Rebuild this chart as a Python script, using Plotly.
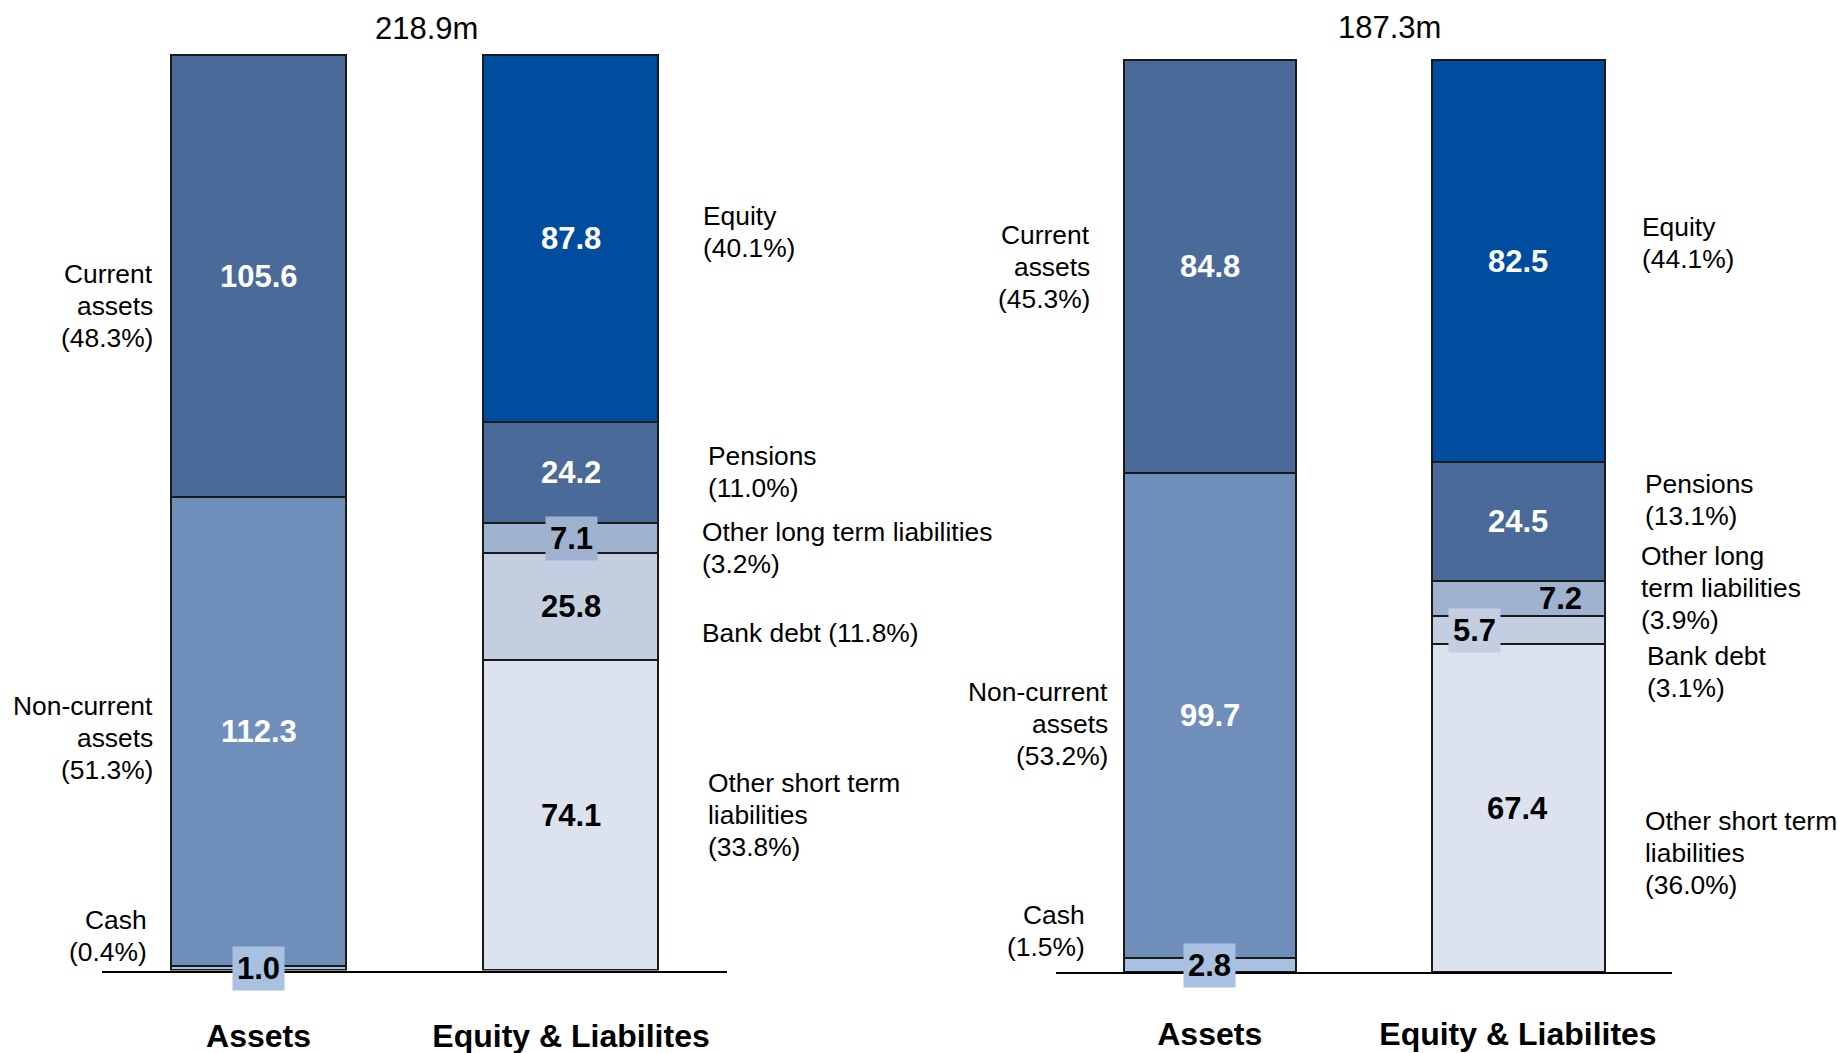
import plotly.graph_objects as go

W, H = 1838, 1053
FONT = "Liberation Sans, Arial, sans-serif"
LINE_GAP = 32  # pixel spacing between lines of the side labels

categories = ["Assets", "Equity & Liabilites"]

# Segment names, listed bottom to top of each stack
asset_names = ["Cash", "Non-current assets", "Current assets"]
liab_names = ["Other short term liabilities", "Bank debt",
              "Other long term liabilities", "Pensions", "Equity"]

# First balance sheet (m)
p1_asset_values = [1.0, 112.3, 105.6]
p1_asset_pct = ["0.4%", "51.3%", "48.3%"]
p1_liab_values = [74.1, 25.8, 7.1, 24.2, 87.8]
p1_liab_pct = ["33.8%", "11.8%", "3.2%", "11.0%", "40.1%"]

# Second balance sheet (m)
p2_asset_values = [2.8, 99.7, 84.8]
p2_asset_pct = ["1.5%", "53.2%", "45.3%"]
p2_liab_values = [67.4, 5.7, 7.2, 24.5, 82.5]
p2_liab_pct = ["36.0%", "3.1%", "3.9%", "13.1%", "44.1%"]

# Side label wording (line breaks differ per panel)
p1_asset_text = ["Cash<br>({})", "Non-current<br>assets<br>({})", "Current<br>assets<br>({})"]
p1_liab_text = ["Other short term<br>liabilities<br>({})", "Bank debt ({})",
                "Other long term liabilities<br>({})", "Pensions<br>({})", "Equity<br>({})"]
p2_asset_text = p1_asset_text
p2_liab_text = ["Other short term<br>liabilities<br>({})", "Bank debt<br>({})",
                "Other long<br>term liabilities<br>({})", "Pensions<br>({})", "Equity<br>({})"]

# Colours
asset_colors = ["#A9C1E1", "#6F8EBA", "#4A6A99"]
liab_colors = ["#DCE3EE", "#C3CEE0", "#9FB2D0", "#4A6A99", "#004C9E"]
asset_text_colors = ["black", "white", "white"]
liab_text_colors = ["black", "black", "black", "white", "white"]
OUTLINE = "#1A1A1A"


def px_x(x):
    return x / W


def px_y(y):
    return 1 - y / H


# Layout of each panel (pixel geometry of the page)
panels = [
    dict(
        asset_values=p1_asset_values, asset_pct=p1_asset_pct, asset_text=p1_asset_text,
        liab_values=p1_liab_values, liab_pct=p1_liab_pct, liab_text=p1_liab_text,
        xdom=(102.3, 727.3), base=970.5, ppu=4.1786, yrange=224, standoff=36,
        title_xy=(426.5, 28),
        asset_label_x=[149.3, 155, 155], asset_label_y=[936, 738, 306],
        liab_label_x=[705.7, 700, 699.8, 705.7, 701.4], liab_label_y=[814.5, 633, 548, 472, 232],
        asset_box=[True, False, False], liab_box=[False, False, True, False, False],
        liab_shift=[0, 0, 0, 0, 0],
    ),
    dict(
        asset_values=p2_asset_values, asset_pct=p2_asset_pct, asset_text=p2_asset_text,
        liab_values=p2_liab_values, liab_pct=p2_liab_pct, liab_text=p2_liab_text,
        xdom=(1055.6, 1672.1), base=972.3, ppu=4.8692, yrange=192, standoff=32,
        title_xy=(1389.6, 27.5),
        asset_label_x=[1087, 1110, 1092.3], asset_label_y=[930.8, 724, 266.5],
        liab_label_x=[1642.8, 1644.5, 1639.3, 1643.3, 1640], liab_label_y=[852.5, 672.4, 587.7, 500.4, 242.8],
        asset_box=[True, False, False], liab_box=[False, True, False, False, False],
        liab_shift=[0, -43, 43, 0, 0],
    ),
]

fig = go.Figure()
annotations = []
layout_axes = {}


def side_label(text, x, y_center, side):
    """Multi-line label, one annotation per line with a fixed line gap."""
    lines = text.split("<br>")
    n = len(lines)
    for k, line in enumerate(lines):
        y = y_center + (k - (n - 1) / 2) * LINE_GAP
        annotations.append(dict(
            x=px_x(x), y=px_y(y), xref="paper", yref="paper", text=line,
            showarrow=False, xanchor=side, yanchor="middle", align=side,
            font=dict(family=FONT, size=26.4, color="black"),
        ))


for i, p in enumerate(panels):
    n = "" if i == 0 else str(i + 1)
    xa, ya = "x" + n, "y" + n
    top_px = p["base"] - p["yrange"] * p["ppu"]
    layout_axes["xaxis" + n] = dict(
        domain=[px_x(p["xdom"][0]), px_x(p["xdom"][1])],
        type="category", range=[-0.5, 1.5], anchor=ya, automargin=False,
        showline=True, linecolor="black", linewidth=2,
        showgrid=False, zeroline=False, ticks="",
        tickfont=dict(family=FONT, size=32, color="black", weight="bold"),
        ticklabelstandoff=p["standoff"], fixedrange=True,
    )
    layout_axes["yaxis" + n] = dict(
        domain=[px_y(p["base"]), px_y(top_px)], automargin=False,
        range=[0, p["yrange"]], anchor=xa, visible=False, fixedrange=True,
    )

    stacks = [
        (categories[0], asset_names, p["asset_values"], asset_colors, asset_text_colors,
         p["asset_box"], [0] * 3),
        (categories[1], liab_names, p["liab_values"], liab_colors, liab_text_colors,
         p["liab_box"], p["liab_shift"]),
    ]
    for cat, names, vals, cols, tcols, boxes, shifts in stacks:
        base = 0.0
        for name, v, c, tc, box, sh in zip(names, vals, cols, tcols, boxes, shifts):
            fig.add_trace(go.Bar(
                x=[cat], y=[v], name=name, xaxis=xa, yaxis=ya,
                marker=dict(color=c, line=dict(color=OUTLINE, width=2)),
                width=0.56, showlegend=False, hoverinfo="skip",
            ))
            annotations.append(dict(
                x=cat, y=base + v / 2, xref=xa, yref=ya, text=f"{v:.1f}",
                showarrow=False, xshift=sh,
                font=dict(family=FONT, size=31, color=tc, weight="bold"),
                bgcolor=c if box else None, borderpad=4,
            ))
            base += v

    # Total above the stacks
    total = sum(p["asset_values"])
    annotations.append(dict(
        x=px_x(p["title_xy"][0]), y=px_y(p["title_xy"][1]), xref="paper", yref="paper",
        text=f"{total:.1f}m", showarrow=False, xanchor="center", yanchor="middle",
        font=dict(family=FONT, size=31, color="black"),
    ))

    # Side labels: assets on the left, equity & liabilities on the right
    for txt, pct, lx, ly in zip(p["asset_text"], p["asset_pct"], p["asset_label_x"], p["asset_label_y"]):
        side_label(txt.format(pct), lx, ly, "right")
    for txt, pct, lx, ly in zip(p["liab_text"], p["liab_pct"], p["liab_label_x"], p["liab_label_y"]):
        side_label(txt.format(pct), lx, ly, "left")

fig.update_layout(
    width=W, height=H, autosize=False, margin=dict(l=0, r=0, t=0, b=0, pad=0),
    paper_bgcolor="white", plot_bgcolor="white",
    barmode="stack", bargap=0, showlegend=False,
    annotations=annotations, **layout_axes,
)

fig.write_html("out.html", config={"displayModeBar": False, "responsive": False})
